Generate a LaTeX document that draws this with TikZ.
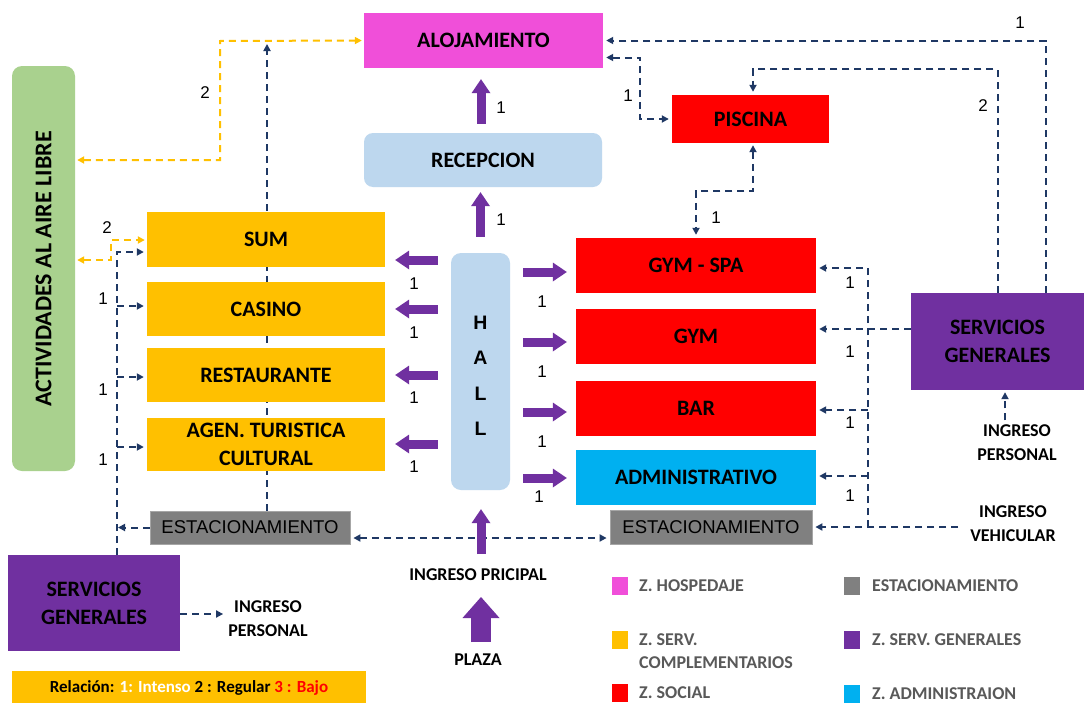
\documentclass[tikz,border=0pt]{standalone}
\usepackage{fontspec}
\setmainfont{Carlito}
\newfontfamily\arialf{Liberation Sans}
\usetikzlibrary{arrows.meta,backgrounds,calc}
\definecolor{mag}{HTML}{F04FD9}
\definecolor{lblue}{HTML}{BDD7EE}
\definecolor{yel}{HTML}{FFC000}
\definecolor{grn}{HTML}{A9D18E}
\definecolor{purp}{HTML}{7030A0}
\definecolor{cyanb}{HTML}{00B0F0}
\definecolor{grayb}{HTML}{808080}
\definecolor{navy}{HTML}{1F3864}
\definecolor{txtg}{HTML}{595959}
\definecolor{redb}{HTML}{FF0000}
\begin{document}
\begin{tikzpicture}[x=1pt,y=-1pt,
  >={Triangle[length=7pt,width=7pt]},
  box/.style={inner sep=0pt, align=center, text=black, font=\fontsize{22}{28}\selectfont\bfseries},
  parkbox/.style={inner sep=0pt, fill=grayb, draw=gray!70, line width=0.8pt, font=\arialf\fontsize{18.5}{22}\selectfont, text=black},
  lbl/.style={inner sep=0pt, align=center, text=black, font=\fontsize{18}{24}\selectfont\bfseries},
  num/.style={inner sep=0pt, text=black, font=\arialf\fontsize{17}{20}\selectfont},
  nav/.style={draw=navy, line width=2pt, dash pattern=on 7pt off 5pt, shorten >=3pt},
  yl/.style={draw=yel, line width=2pt, dash pattern=on 7pt off 5pt, shorten >=2pt, shorten <=2pt},
  fat/.style={draw=purp, line width=9pt, -{Triangle[length=14pt,width=19pt,line width=0pt]}},
  fatbig/.style={draw=purp, line width=20pt, -{Triangle[length=21pt,width=37pt,line width=0pt]}},
  sq/.style={inner sep=0pt, minimum width=16pt, minimum height=18pt},
  legt/.style={inner sep=0pt, anchor=west, align=left, text=txtg, font=\fontsize{18}{23}\selectfont\bfseries}
]
\useasboundingbox (0,0) rectangle (1084,704);

% ---- boxes ----
\node[box, fill=mag, minimum width=239pt, minimum height=55pt] (aloj) at (483.5,40.5) {ALOJAMIENTO};
\node[box, fill=lblue, rounded corners=9pt, minimum width=238pt, minimum height=54pt] (recep) at (483,160) {RECEPCION};
\node[box, fill=redb, minimum width=157pt, minimum height=48pt] (pisc) at (750.5,119) {PISCINA};
\node[box, fill=grn, rounded corners=10pt, minimum width=63pt, minimum height=405pt] (act) at (43.5,268.5) {};
\node[box, rotate=90, font=\fontsize{24}{28}\selectfont\bfseries] (actt) at (43.5,269) {ACTIVIDADES AL AIRE LIBRE};

\node[box, fill=yel, minimum width=238pt, minimum height=55pt] (sum) at (266,239.5) {SUM};
\node[box, fill=yel, minimum width=238pt, minimum height=54pt] (casino) at (266,309) {CASINO};
\node[box, fill=yel, minimum width=238pt, minimum height=54pt] (rest) at (266,375) {RESTAURANTE};
\node[box, fill=yel, minimum width=238pt, minimum height=53pt] (agen) at (266,444.5) {AGEN. TURISTICA\\CULTURAL};

\node[box, fill=lblue, rounded corners=10pt, minimum width=59pt, minimum height=237pt] (hall) at (480.5,371.5) {};
\node[inner sep=0pt, align=center, font=\arialf\fontsize{19.5}{35.5}\selectfont\bfseries] (hallt) at (480.5,376) {H\\A\\L\\L};

\node[box, fill=redb, minimum width=240pt, minimum height=55pt] (gymspa) at (696,265.5) {GYM - SPA};
\node[box, fill=redb, minimum width=240pt, minimum height=55pt] (gym) at (696,336.5) {GYM};
\node[box, fill=redb, minimum width=240pt, minimum height=55pt] (bar) at (696,408.5) {BAR};
\node[box, fill=cyanb, minimum width=240pt, minimum height=55pt] (adm) at (696,477.5) {ADMINISTRATIVO};

\node[box, fill=purp, minimum width=173pt, minimum height=97pt] (sgR) at (997.5,341.5) {SERVICIOS\\GENERALES};
\node[box, fill=purp, minimum width=172pt, minimum height=96pt] (sgL) at (94,603) {SERVICIOS\\GENERALES};

\node[parkbox, minimum width=200pt, minimum height=33pt] (estL) at (250,527.5) {ESTACIONAMIENTO};
\node[parkbox, minimum width=202pt, minimum height=34pt] (estR) at (711,527) {ESTACIONAMIENTO};

% ---- free labels ----
\node[lbl] (ingPR) at (1017,442.5) {INGRESO\\PERSONAL};
\node[lbl] (ingV) at (1013,523.5) {INGRESO\\VEHICULAR};
\node[lbl] (ingPL) at (268,619) {INGRESO\\PERSONAL};
\node[lbl] (ingPrin) at (478,575) {INGRESO PRICIPAL};
\node[lbl] (plaza) at (478,660) {PLAZA};

% ---- background line behind yellow boxes ----
\begin{scope}[on background layer]
  \fill[white] (0,0) rectangle (1084,704);
  \draw[nav,->,shorten >=0pt] (estL.north -| 267,0) -- (267,44);
\end{scope}

% ---- yellow dashed ----
\draw[yl,<->] (act.east |- 0,160) -| (220,41) -- (aloj.west);
\draw[yl,<->] (act.east |- 0,260) -| (111,240) -- (sum.west |- 0,240);

% ---- navy dashed, right ----
\draw[nav,->] (sgR.north -| 1046,0) |- (aloj.east);
\draw[nav,->] (sgR.north) -- (sgR.north |- 0,69) -| ([xshift=2.5pt]pisc.north);
\draw[nav,<->,shorten <=3pt] ([yshift=-17pt]aloj.east) -- (640,57.5) |- (pisc.west);
\draw[nav,<->,shorten <=2pt] ([xshift=2.5pt]pisc.south) -- ++(0,48) -| (gymspa.north);

\coordinate (rv) at (868,527);
\coordinate (ivs) at (958,527);
\draw[nav,->] (ivs) -- (estR.east |- ivs);
\draw[nav,->] (rv) |- ([yshift=-2.5pt]gymspa.east);
\draw[nav,->] (sgR.west |- 0,329) -- (gym.east |- 0,329);
\draw[nav,->] (rv |- 0,410) -- (bar.east |- 0,410);
\draw[nav,->] (rv |- 0,476) -- (adm.east |- 0,476);
\draw[nav,->,shorten <=4pt,shorten >=2pt] (ingPR.north -| 1005,0) -- (sgR.south -| 1005,0);

% ---- navy dashed, left & bottom ----
\draw[nav,->,shorten >=5pt] (sgL.east |- 0,614) -- (ingPL.west |- 0,614);
\draw[nav,<->,shorten <=3pt] (estL.east |- 0,538) -- (estR.west |- 0,538);
\draw[nav,->] (sgL.north -| 117,0) |- (sum.west |- 0,252);
\draw[nav,->] (117,306) -- (casino.west |- 0,306);
\draw[nav,->] (117,377) -- (rest.west |- 0,377);
\draw[nav,->] (117,447) -- (agen.west |- 0,447);
\draw[nav,->,shorten >=0pt] (estL.west) -- (118,527.5);

% ---- purple arrows ----
\draw[fat,shorten <=9pt,shorten >=11pt] ([xshift=-2pt]recep.north) -- ([xshift=-2pt]aloj.south -| recep.north);
\draw[fat,shorten <=16pt,shorten >=5pt] (hall.north) -- (hall.north |- recep.south);
\foreach \yy/\tg in {260/sum,309/casino,375/rest,444/agen}{
  \draw[fat,shorten <=13pt,shorten >=10pt] (hall.west |- 0,\yy) -- (\tg.east |- 0,\yy);
}
\foreach \yy/\tg in {272/gymspa,342/gym,412/bar,478/adm}{
  \draw[fat,shorten <=13pt,shorten >=9pt] (hall.east |- 0,\yy) -- (\tg.west |- 0,\yy);
}
\draw[fat,shorten >=19pt] (481,554) -- (hall.south -| 481,0);
\draw[fatbig] (481,642) -- (481,597);

% ---- number labels ----
\node[num] (n1) at (501,108) {1};
\node[num] (n2) at (501,220) {1};
\node[num] (n3) at (1020,23) {1};
\node[num] (n4) at (983,106) {2};
\node[num] (n5) at (628,96) {1};
\node[num] (n6) at (716,218) {1};
\node[num] (n7) at (205,93) {2};
\node[num] (n8) at (107,228) {2};
\node[num] (n9) at (103,299) {1};
\node[num] (n10) at (103,390) {1};
\node[num] (n11) at (103,460) {1};
\node[num] (n12) at (414,284) {1};
\node[num] (n13) at (414,333) {1};
\node[num] (n14) at (414,398) {1};
\node[num] (n15) at (414,467) {1};
\node[num] (n16) at (542,302) {1};
\node[num] (n17) at (542,372) {1};
\node[num] (n18) at (542,442) {1};
\node[num] (n19) at (539,497) {1};
\node[num] (n20) at (850,283) {1};
\node[num] (n21) at (850,352) {1};
\node[num] (n22) at (850,423) {1};
\node[num] (n23) at (850,496) {1};

% ---- legend ----
\node[sq, fill=mag] (lg1) at (620,586) {};
\node[legt] (lt1) at (639,586) {Z. HOSPEDAJE};
\node[sq, fill=yel] (lg2) at (620,640) {};
\node[legt] (lt2) at (639,651.5) {Z. SERV.\\COMPLEMENTARIOS};
\node[sq, fill=redb] (lg3) at (620,693) {};
\node[legt] (lt3) at (639,693) {Z. SOCIAL};
\node[sq, fill=grayb] (lg4) at (852,586) {};
\node[legt] (lt4) at (872,586) {ESTACIONAMIENTO};
\node[sq, fill=purp] (lg5) at (852,640) {};
\node[legt] (lt5) at (872,640) {Z. SERV. GENERALES};
\node[sq, fill=cyanb] (lg6) at (852,694) {};
\node[legt] (lt6) at (872,694) {Z. ADMINISTRAION};

\node[inner sep=0pt, fill=yel, minimum width=354pt, minimum height=32pt] (lbar) at (189,687) {};
\node[inner sep=0pt, font=\fontsize{17}{20}\selectfont\bfseries] (lbart) at (189,688) {Relación: \textcolor{white}{1: Intenso} 2 : Regular \textcolor{redb}{3 : Bajo}};
\end{tikzpicture}
\end{document}
